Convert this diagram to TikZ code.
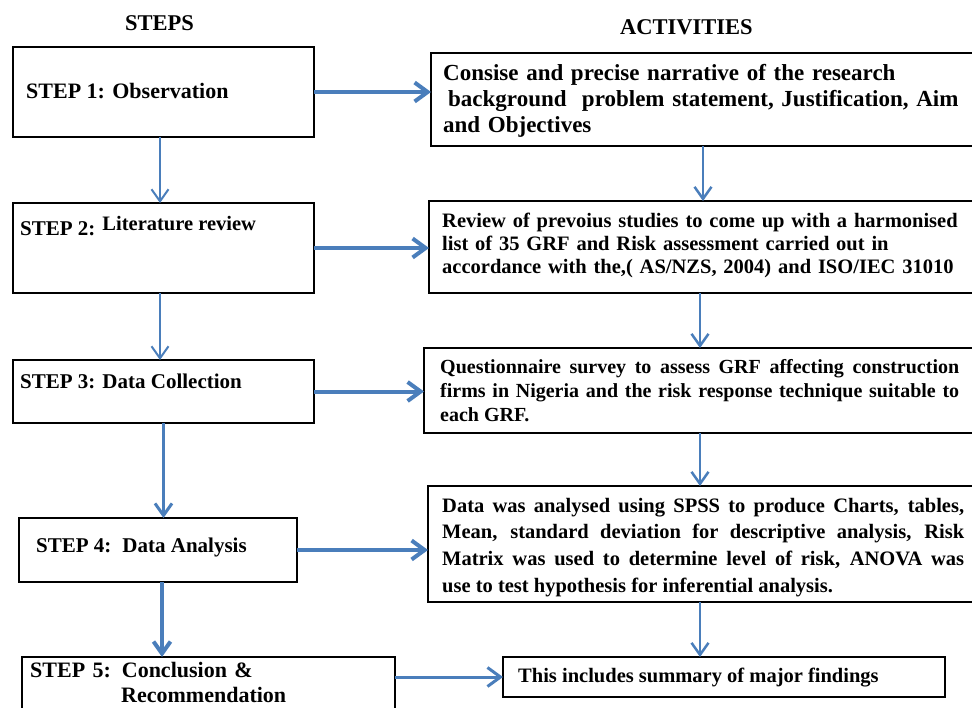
\documentclass[tikz,border=0pt]{standalone}
\usepackage{fontspec}
\setmainfont{Liberation Serif}
\usetikzlibrary{arrows.meta}
\definecolor{arrblue}{RGB}{74,126,187}
\tikzset{
  box/.style={draw=black, line width=2.4pt, anchor=north west, inner sep=0pt, outer sep=0pt},
  lbl/.style={anchor=base west, inner sep=0pt, font=\bfseries\fontsize{22}{26}\selectfont},
  txt/.style={anchor=base west, inner sep=0pt},
  conn/.style={draw=arrblue, -{Straight Barb[length=12pt,width=17pt]}},
  hconn/.style={draw=arrblue, line width=4pt, -{Straight Barb[length=13pt,width=19pt]}},
}
\begin{document}
\begin{tikzpicture}[x=1pt,y=-1pt]
\useasboundingbox (0,0) rectangle (972,707);
\clip (0,0) rectangle (972,707);

% headers
\node[lbl, font=\bfseries\fontsize{22.5}{26}\selectfont] (hs) at (125,30) {STEPS};
\node[lbl, font=\bfseries\fontsize{22.5}{26}\selectfont] (ha) at (620,34) {ACTIVITIES};

% step boxes
\node[box, minimum width=301pt, minimum height=90pt] (s1) at (13,47) {};
\node[box, minimum width=301pt, minimum height=90pt] (s2) at (13,203) {};
\node[box, minimum width=301pt, minimum height=63pt] (s3) at (13,360) {};
\node[box, minimum width=278pt, minimum height=64pt] (s4) at (19,518) {};
\node[box, minimum width=373pt, minimum height=80pt] (s5) at (22,657) {};

% activity boxes
\node[box, minimum width=554pt, minimum height=93pt] (a1) at (431,53) {};
\node[box, minimum width=556pt, minimum height=92pt] (a2) at (429,201) {};
\node[box, minimum width=561pt, minimum height=85pt] (a3) at (424,348) {};
\node[box, minimum width=557pt, minimum height=116pt] (a4) at (428,486) {};
\node[box, minimum width=442pt, minimum height=40pt] (a5) at (503,657) {};

% step texts
\node[lbl] (t1) at (26,98) {STEP 1: Observation};
\node[lbl, font=\bfseries\fontsize{21}{24}\selectfont] (t2) at (20,235)
  {STEP 2:\hspace{7pt}\raisebox{5pt}{\fontsize{20.5}{24}\selectfont Literature review}};
\node[lbl, font=\bfseries\fontsize{21}{24}\selectfont] (t3) at (20,388) {STEP 3: Data Collection};
\node[lbl, font=\bfseries\fontsize{21}{24}\selectfont] (t4) at (36,552) {STEP 4:\hspace{11pt}Data Analysis};
\node[lbl, text width=340pt, align=left, font=\bfseries\fontsize{22}{25}\selectfont] (t5) at (30,677)
  {STEP 5: Conclusion \&\\\hspace*{91pt}Recommendation};

% activity texts
\node[txt, text width=520pt, align=left, font=\bfseries\fontsize{23}{26.3}\selectfont] (x1) at (443,80)
  {Consise and precise narrative of the research\\
   \hspace*{5pt}background\ \ problem statement, Justification, Aim\\
   and Objectives};
\node[txt, text width=520pt, align=left, font=\bfseries\fontsize{20.5}{23}\selectfont] (x2) at (442,227)
  {Review of prevoius studies to come up with a harmonised\\
   list of 35 GRF and Risk assessment carried out in\\
   accordance with the,( AS/NZS, 2004) and ISO/IEC 31010};
\node[txt, text width=519pt, align=justify, font={\bfseries\fontsize{20}{24}\selectfont\tolerance=10000\relax}] (x3) at (440,373)
  {Questionnaire survey to assess GRF affecting construction\linebreak
   firms in Nigeria and the risk response technique suitable to\linebreak
   each GRF.};
\node[txt, text width=522pt, align=justify, font={\bfseries\fontsize{20.5}{26.7}\selectfont\tolerance=10000\relax}] (x4) at (442,512)
  {Data was analysed using SPSS to produce Charts, tables,\linebreak
   Mean, standard deviation for descriptive analysis, Risk\linebreak
   Matrix was used to determine level of risk, ANOVA was\linebreak
   use to test hypothesis for inferential analysis.};
\node[txt, font=\bfseries\fontsize{20.5}{24}\selectfont] (x5) at (518,682) {This includes summary of major findings};

% horizontal connectors
\draw[hconn] (s1) -- (s1 -| a1.west);
\draw[hconn] (s2) -- (s2 -| a2.west);
\draw[hconn] (s3) -- (s3 -| a3.west);
\draw[hconn] (s4) -- (s4 -| a4.west);
\draw[hconn, line width=3pt] (s5.east |- a5.west) -- (a5.west);

% left vertical connectors
\draw[conn, line width=2pt] ([xshift=-3.5pt]s1.south) -- ([xshift=-3.5pt]s1.south |- s2.north);
\draw[conn, line width=2pt] ([xshift=-3.5pt]s2.south) -- ([xshift=-3.5pt]s2.south |- s3.north);
\draw[conn, line width=3pt] (s3.south) -- (s3.south |- s4.north);
\draw[conn, line width=4pt] ([xshift=4pt]s4.south) -- ([xshift=4pt]s4.south |- s5.north);

% right vertical connectors
\draw[conn, line width=2.5pt] ([xshift=-5pt]a1.south) -- ([xshift=-5pt]a1.south |- a2.north);
\draw[conn, line width=2.5pt] ([xshift=-7pt]a2.south) -- ([xshift=-7pt]a2.south |- a3.north);
\draw[conn, line width=2.5pt] ([xshift=-4.5pt]a3.south) -- ([xshift=-4.5pt]a3.south |- a4.north);
\draw[conn, line width=2.5pt] ([xshift=-6.5pt]a4.south) -- ([xshift=-6.5pt]a4.south |- a5.north);
\end{tikzpicture}
\end{document}
